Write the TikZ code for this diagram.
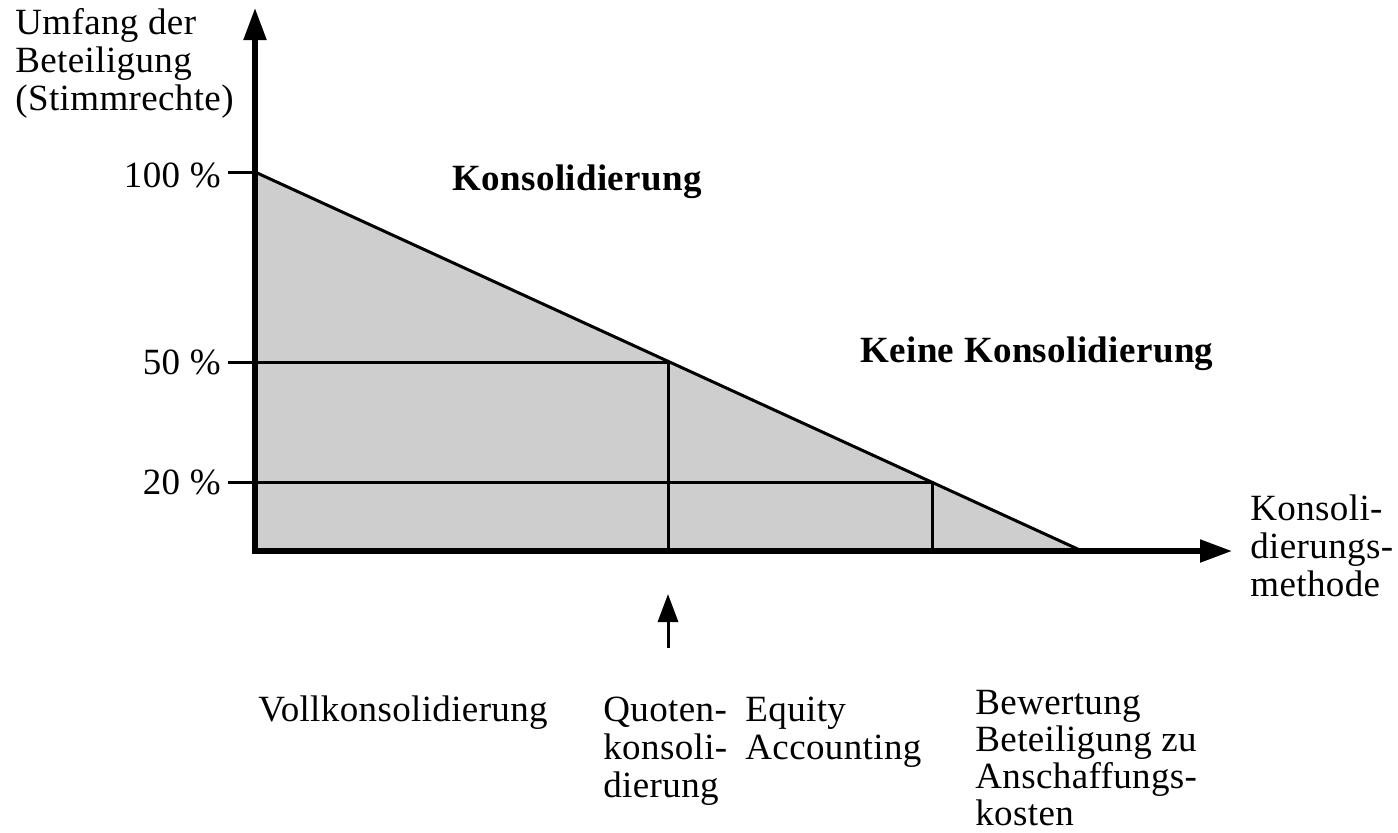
\documentclass[tikz,border=0pt]{standalone}
\usepackage{fontspec}
\setmainfont{Liberation Serif}[LetterSpace=1]
\usetikzlibrary{arrows.meta}

\begin{document}
\begin{tikzpicture}[x=0.5pt,y=-0.5pt,
  axisline/.style={line width=2.6pt,-{Triangle[length=16pt,width=11pt]}},
  gridline/.style={line width=1.5pt},
  markarrow/.style={line width=1.5pt,-{Triangle[length=14pt,width=10pt]}},
  area/.style={fill={rgb,255:red,206;green,206;blue,206}},
  lbl/.style={inner sep=0pt,anchor=base west,align=left,
    font=\fontsize{18.5}{19}\selectfont},
  pct/.style={inner sep=0pt,anchor=base east,
    font=\fontsize{18.5}{19}\selectfont},
  head/.style={inner sep=0pt,anchor=base west,
    font=\fontsize{18.5}{19}\selectfont\bfseries}]
\useasboundingbox (0,0) rectangle (1398,832);

% key points of the chart
\coordinate (O) at (255,551);
\coordinate (Obelow) at (255,553.5);
\coordinate (Ytip) at (255,8);
\coordinate (Xtip) at (1232,551);
\coordinate (P100) at (255,172);
\coordinate (P50) at (255,362);
\coordinate (P20) at (255,482);
\coordinate (T100) at (228,172);
\coordinate (T50) at (228,362);
\coordinate (T20) at (228,482);
\coordinate (D50) at (668,362);
\coordinate (D20) at (932,482);
\coordinate (B50) at (668,551);
\coordinate (B20) at (932,551);
\coordinate (Dend) at (1082,551);
\coordinate (Mlow) at (668,648);
\coordinate (Mtip) at (668,594);

% shaded consolidation area
\fill[area] (O) -- (P100) -- (Dend) -- cycle;
\draw[gridline] (P100) -- (Dend);
\draw[gridline] (P50) -- (D50) -- (B50);
\draw[gridline] (P20) -- (D20) -- (B20);

% tick marks
\draw[gridline] (T100) -- (P100);
\draw[gridline] (T50) -- (P50);
\draw[gridline] (T20) -- (P20);

% axes
\draw[axisline] (Obelow) -- (Ytip);
\draw[axisline] (O) -- (Xtip);

% marker arrow
\draw[markarrow] (Mlow) -- (Mtip);

% axis labels (anchored at the baseline of their last line)
\node[lbl] (ylab) at (15,110) {Umfang der\\Beteiligung\\(Stimmrechte)};
\node[lbl] (xlab) at (1250,596) {Konsoli-\\dierungs-\\methode};
\node[pct] (l100) at (221,187) {100 \%};
\node[pct] (l50) at (221,374) {50 \%};
\node[pct] (l20) at (221,494) {20 \%};

% region headings
\node[head] (kons) at (452,190) {Konsolidierung};
\node[head] (keine) at (860,362) {Keine Konsolidierung};

% method labels
\node[lbl] (voll) at (258,721) {Vollkonsolidierung};
\node[lbl] (quote) at (603,797) {Quoten-\\konsoli-\\dierung};
\node[lbl] (equity) at (745,759) {Equity\\Accounting};
\node[lbl,font=\fontsize{18.5}{18.5}\selectfont] (bew) at (975,825)
  {Bewertung\\Beteiligung zu\\Anschaffungs-\\kosten};
\end{tikzpicture}
\end{document}
